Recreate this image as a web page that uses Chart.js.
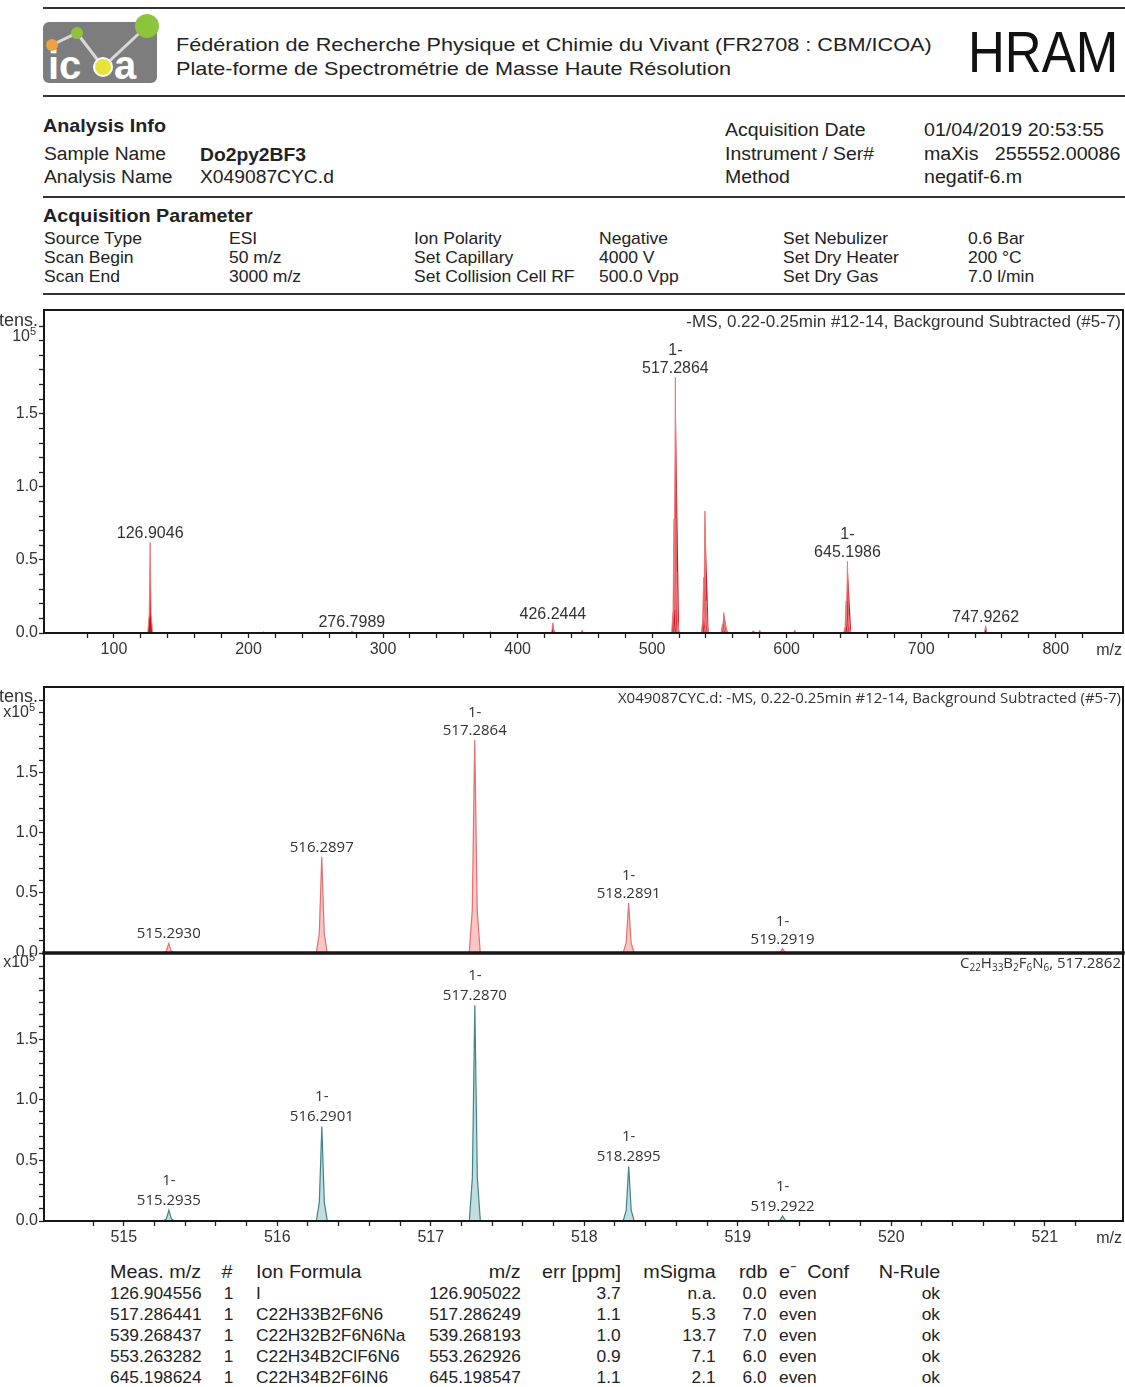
<!DOCTYPE html>
<html><head><meta charset="utf-8">
<script src="https://cdn.jsdelivr.net/npm/chart.js@4.4.1/dist/chart.umd.min.js"></script>
<style>
body{margin:0;background:#fff;width:1125px;height:1387px;position:relative;overflow:hidden;font-family:"Liberation Sans",Arial,sans-serif;color:#222;}
.t{position:absolute;white-space:nowrap;line-height:1;transform-origin:left top;}
.b{font-weight:bold;}
.hr{position:absolute;left:43px;width:1082px;height:2px;background:#333;}
canvas{position:absolute;left:0;}
</style></head><body>

<svg style="position:absolute;left:0;top:0" width="170" height="95">
  <rect x="43" y="22" width="114" height="61" rx="6" fill="#7d7d7d"/>
  <polyline points="52,45 77,33 103,67 147,26" fill="none" stroke="#d8d8d8" stroke-width="3"/>
  <text x="48" y="79" font-family="Liberation Sans" font-weight="bold" font-size="40" fill="#fff">ic</text>
  <text x="114" y="79" font-family="Liberation Sans" font-weight="bold" font-size="40" fill="#fff">a</text>
  <circle cx="103" cy="67" r="10" fill="#fff"/>
  <circle cx="103" cy="67" r="8" fill="#e9e23a"/>
  <circle cx="52" cy="45" r="6" fill="#f0a044"/>
  <circle cx="77" cy="33" r="6" fill="#8cc43c"/>
  <circle cx="147" cy="26" r="12" fill="#8cc43c"/>
</svg>

<div class="hr" style="top:7px"></div>
<div class="hr" style="top:95px"></div>
<div class="hr" style="top:196px"></div>
<div class="hr" style="top:293px"></div>

<div class="t" style="left:176px;top:35px;font-size:19px;transform:scaleX(1.14)">Fédération de Recherche Physique et Chimie du Vivant (FR2708 : CBM/ICOA)</div>
<div class="t" style="left:176px;top:59px;font-size:19px;transform:scaleX(1.14)">Plate-forme de Spectrométrie de Masse Haute Résolution</div>
<div class="t" style="left:968px;top:23px;font-size:58px;transform:scaleX(0.88);color:#111">HRAM</div>

<div id="info"></div>
<div class="t b" style="left:43px;top:206px;font-size:19px;transform:scaleX(1.04)">Acquisition Parameter</div>
<div id="params"></div>
<div id="table"></div>

<canvas id="c1" width="1125" height="365" style="top:300px"></canvas>
<canvas id="c2" width="1125" height="279" style="top:677px"></canvas>
<canvas id="c3" width="1125" height="310" style="top:943px"></canvas>

<script>
// ---------------- DATA ----------------
const infoLabels = ['Sample Name','Analysis Name'];
const infoValues = ['Do2py2BF3','X049087CYC.d'];
const acqLabels  = ['Acquisition Date','Instrument / Ser#','Method'];
const acqValues  = ['01/04/2019 20:53:55','maXis\u00a0\u00a0 255552.00086','negatif-6.m'];

const paramNames1 = ['Source Type','Scan Begin','Scan End'];
const paramVals1  = ['ESI','50 m/z','3000 m/z'];
const paramNames2 = ['Ion Polarity','Set Capillary','Set Collision Cell RF'];
const paramVals2  = ['Negative','4000 V','500.0 Vpp'];
const paramNames3 = ['Set Nebulizer','Set Dry Heater','Set Dry Gas'];
const paramVals3  = ['0.6 Bar','200 °C','7.0 l/min'];

// full-range spectrum (m/z, intensity x1e5)
const topMz  = [126.9046, 211.0, 276.7989, 380.0, 426.2444, 427.25, 448.0,
                516.2897, 517.2864, 518.2891, 519.2919, 538.27, 539.2684, 540.27, 541.27,
                552.26, 553.2633, 554.27, 555.26, 575.0, 580.0, 606.0,
                644.20, 645.1986, 646.20, 647.20, 747.9262];
const topInt = [0.62, 0.008, 0.015, 0.01, 0.07, 0.02, 0.02,
                0.78, 1.75, 0.42, 0.04, 0.38, 0.835, 0.22, 0.03,
                0.06, 0.14, 0.07, 0.03, 0.015, 0.02, 0.02,
                0.22, 0.49, 0.12, 0.02, 0.05];
const topLabelMz     = [126.9046, 276.7989, 426.2444, 517.2864, 645.1986, 747.9262];
const topLabelCharge = ['', '', '', '1-', '1-', ''];
const topTitle = '-MS, 0.22-0.25min #12-14, Background Subtracted (#5-7)';
const topXTickLabels = [100, 200, 300, 400, 500, 600, 700, 800];

// zoomed measured spectrum
const midMz  = [515.2930, 516.2897, 517.2864, 518.2891, 519.2919];
const midInt = [0.08, 0.80, 1.77, 0.415, 0.035];
const midCharge = ['', '', '1-', '1-', '1-'];
const midTitle = 'X049087CYC.d: -MS, 0.22-0.25min #12-14, Background Subtracted (#5-7)';

// simulated isotope pattern
const simMz  = [515.2935, 516.2901, 517.2870, 518.2895, 519.2922];
const simInt = [0.09, 0.78, 1.78, 0.45, 0.04];
const simCharge = ['1-', '1-', '1-', '1-', '1-'];
const simFormula = 'C22H33B2F6N6';
const simMass = '517.2862';
const zoomXTickLabels = [515, 516, 517, 518, 519, 520, 521];

const yTickLabels = [0, 0.5, 1.0, 1.5];

// result table
const tblHead   = ['Meas. m/z', '#', 'Ion Formula', 'm/z', 'err [ppm]', 'mSigma', 'rdb', 'e⁻\u00a0 Conf', 'N-Rule'];
const measMz    = ['126.904556','517.286441','539.268437','553.263282','645.198624'];
const hitNo     = ['1','1','1','1','1'];
const ionFormula= ['I','C22H33B2F6N6','C22H32B2F6N6Na','C22H34B2ClF6N6','C22H34B2F6IN6'];
const calcMz    = ['126.905022','517.286249','539.268193','553.262926','645.198547'];
const errPpm    = ['3.7','1.1','1.0','0.9','1.1'];
const mSigma    = ['n.a.','5.3','13.7','7.1','2.1'];
const rdb       = ['0.0','7.0','7.0','6.0','6.0'];
const eConf     = ['even','even','even','even','even'];
const nRule     = ['ok','ok','ok','ok','ok'];

// ---------------- HTML TEXT ----------------
function txt(parent, s, x, top, size, align, sx, bold){
  const d = document.createElement('div');
  d.className = 't' + (bold ? ' b' : '');
  d.textContent = s;
  d.style.fontSize = size + 'px';
  d.style.top = top + 'px';
  if (align === 'r') { d.style.right = (1125 - x) + 'px'; d.style.transformOrigin = 'right top'; }
  else d.style.left = x + 'px';
  if (sx) d.style.transform = 'scaleX(' + sx + ')';
  parent.appendChild(d);
}
const I = document.getElementById('info');
txt(I, 'Analysis Info', 43, 116, 19, 'l', 1.04, true);
infoLabels.forEach((s,i) => txt(I, s, 44, [145,168][i], 18, 'l', 1.07));
infoValues.forEach((s,i) => txt(I, s, 200, [146,168][i], 18, 'l', 1.07, i === 0));
acqLabels.forEach((s,i) => txt(I, s, 725, [121,145,168][i], 18, 'l', 1.08));
acqValues.forEach((s,i) => txt(I, s, 924, [121,145,168][i], 18, 'l', 1.09));

const P = document.getElementById('params');
const pCols = [[paramNames1,44],[paramVals1,229],[paramNames2,414],[paramVals2,599],[paramNames3,783],[paramVals3,968]];
const pTops = [230, 249, 268];
pCols.forEach(([arr,x]) => arr.forEach((s,i) => txt(P, s, x, pTops[i], 17, 'l', 1.03)));

const T = document.getElementById('table');
const tCols = [[measMz,110,'l'],[hitNo,233,'r'],[ionFormula,256,'l'],[calcMz,521,'r'],[errPpm,621,'r'],
               [mSigma,716,'r'],[rdb,767,'r'],[eConf,779,'l'],[nRule,940,'r']];
const tTops = [1285, 1306, 1327, 1348, 1369];
tCols.forEach(([arr,x,a],c) => {
  txt(T, tblHead[c], x, 1262, 19, a, 1.04);
  arr.forEach((s,i) => txt(T, s, x, tTops[i], 17, a, 1.02));
});

// ---------------- CHARTS ----------------
Chart.defaults.font.family = '"Liberation Sans", Arial, sans-serif';
Chart.defaults.color = '#333';

function peakShape(mz, inten, hw, knee){
  const pts = [];
  mz.forEach((m,i) => {
    const h = inten[i];
    pts.push({x:m-hw,y:0},{x:m-hw*knee,y:h*0.2},{x:m,y:h},{x:m+hw*knee,y:h*0.2},{x:m+hw,y:0},{x:m+hw,y:null});
  });
  return pts;
}
function nearestInt(mz, inten, m){
  let best = 0;
  mz.forEach((v,i) => { if (Math.abs(v-m) < Math.abs(mz[best]-m)) best = i; });
  return inten[best];
}
function onStep(v, step){ const r = v/step; return Math.abs(r - Math.round(r)) < 1e-6; }
function isIn(list, v){ return list.some(t => Math.abs(t - v) < 1e-6); }

const deco = {
  id: 'deco',
  afterDatasetsDraw(chart, args, o){
    const {ctx, chartArea:a, scales:{x, y}} = chart;
    ctx.save();
    ctx.strokeStyle = '#161616';
    (o.edges || []).forEach(([side, w]) => {
      ctx.lineWidth = w;
      ctx.beginPath();
      if (side === 'top')    { ctx.moveTo(a.left - w/2, a.top); ctx.lineTo(a.right + w/2, a.top); }
      if (side === 'bottom') { ctx.moveTo(a.left - w/2, a.bottom); ctx.lineTo(a.right + w/2, a.bottom); }
      if (side === 'left')   { ctx.moveTo(a.left, a.top); ctx.lineTo(a.left, a.bottom); }
      if (side === 'right')  { ctx.moveTo(a.right, a.top); ctx.lineTo(a.right, a.bottom); }
      ctx.stroke();
    });
    // peak labels
    ctx.fillStyle = '#333';
    ctx.textAlign = 'center';
    ctx.textBaseline = 'alphabetic';
    ctx.font = o.labelFont;
    (o.labels || []).forEach(l => {
      const px = x.getPixelForValue(l.mz);
      let by = y.getPixelForValue(l.inten) - o.labelGap;
      for (let k = l.lines.length - 1; k >= 0; k--) {
        ctx.fillText(l.lines[k], px, by);
        by -= o.labelLine;
      }
    });
    // title (right aligned, inside the frame)
    if (o.title) {
      ctx.textAlign = 'left';
      const parts = o.title.parts;
      let total = 0;
      parts.forEach(p => { ctx.font = p[1] ? o.title.subFont : o.title.font; total += ctx.measureText(p[0]).width; });
      let cx = a.right - 2 - total;
      const by = a.top + o.title.dy;
      parts.forEach(p => {
        ctx.font = p[1] ? o.title.subFont : o.title.font;
        ctx.fillText(p[0], cx, by + (p[1] ? 3 : 0));
        cx += ctx.measureText(p[0]).width;
      });
    }
    // intensity unit
    if (o.unit) {
      const u = o.unit;
      ctx.textAlign = 'right';
      ctx.font = '18px "Liberation Sans", Arial, sans-serif';
      if (u.intens) ctx.fillText('Intens.', 38, a.top + u.dy - 15);
      ctx.font = '16px "Liberation Sans", Arial, sans-serif';
      ctx.fillText(u.mult, u.xr, a.top + u.dy);
      ctx.textAlign = 'left';
      ctx.font = '11px "Liberation Sans", Arial, sans-serif';
      ctx.fillText('5', u.xr, a.top + u.dy - 6);
    }
    // m/z axis label
    if (o.mz) {
      ctx.textAlign = 'right';
      ctx.font = '16px "Liberation Sans", Arial, sans-serif';
      ctx.fillText('m/z', a.right - 1, a.bottom + 22);
    }
    ctx.restore();
  }
};

function formulaParts(f, tail){
  const parts = [];
  f.match(/[A-Z][a-z]?|\d+/g).forEach(tok => parts.push([tok, /\d/.test(tok)]));
  parts.push([tail, false]);
  return parts;
}

function makeChart(id, cfg){
  const yAxis = {
    type: 'linear', min: 0, max: 2.21,
    ticks: { stepSize: 0.1, autoSkip: false, padding: 1, color: '#333',
             font: { size: 16 },
             callback: v => isIn(yTickLabels, v) ? v.toFixed(1) : '' },
    afterBuildTicks: s => { s.ticks = s.ticks.filter(t => onStep(t.value, 0.1)); },
    grid: { drawOnChartArea: false, drawTicks: true, tickLength: 5, tickColor: '#222', tickWidth: 1.3 },
    border: { display: false },
    afterFit: s => { s.width = 44; s.paddingTop = 0; s.paddingBottom = 0; }
  };
  const xAxis = cfg.xShow ? {
    type: 'linear', min: cfg.xmin, max: cfg.xmax,
    ticks: { stepSize: cfg.step, autoSkip: false, maxRotation: 0, padding: 2, color: '#333',
             font: { size: 16 },
             callback: v => isIn(cfg.xLabels, v) ? String(Math.round(v)) : '' },
    afterBuildTicks: s => { s.ticks = s.ticks.filter(t => onStep(t.value, cfg.step)); },
    grid: { drawOnChartArea: false, drawTicks: true, tickLength: 5, tickColor: '#222', tickWidth: 1.3 },
    border: { display: false },
    afterFit: s => { s.height = 32; s.paddingLeft = 0; s.paddingRight = 0; }
  } : { type: 'linear', min: cfg.xmin, max: cfg.xmax, display: false };

  return new Chart(document.getElementById(id), {
    type: 'line',
    data: { datasets: [{
      data: peakShape(cfg.mz, cfg.inten, cfg.hw, cfg.knee),
      borderColor: cfg.stroke, borderWidth: cfg.lw, backgroundColor: cfg.fill,
      fill: 'origin', pointRadius: 0, tension: 0, spanGaps: false
    }]},
    options: {
      responsive: false, animation: false,
      layout: { padding: { top: 10, right: 2, left: 0, bottom: cfg.xShow ? 0 : 3 } },
      plugins: { legend: { display: false }, tooltip: { enabled: false }, deco: cfg.deco },
      scales: { x: xAxis, y: yAxis }
    },
    plugins: [deco]
  });
}

const openLbl = '15px "Open Sans", sans-serif';

makeChart('c1', {
  mz: topMz, inten: topInt, hw: 1.8, knee: 0.4,
  stroke: '#ec7a7a', lw: 1, fill: '#c8101e',
  xShow: true, xmin: 48, xmax: 850, step: 20, xLabels: topXTickLabels,
  deco: {
    edges: [['top',2],['right',2],['bottom',2],['left',2]],
    labelFont: '16px "Liberation Sans", Arial, sans-serif', labelGap: 4, labelLine: 18,
    labels: topLabelMz.map((m,i) => ({ mz: m, inten: nearestInt(topMz, topInt, m),
             lines: topLabelCharge[i] ? [topLabelCharge[i], m.toFixed(4)] : [m.toFixed(4)] })),
    title: { parts: [[topTitle, false]], font: '17px "Liberation Sans", Arial, sans-serif', subFont: '10px sans-serif', dy: 17 },
    unit: { intens: true, mult: '10', xr: 30, dy: 31 },
    mz: true
  }
});

makeChart('c2', {
  mz: midMz, inten: midInt, hw: 0.036, knee: 0.45,
  stroke: '#e36f6f', lw: 1.2, fill: '#f8c6c6',
  xShow: false, xmin: 514.48, xmax: 521.51,
  deco: {
    edges: [['top',2],['right',2],['left',2],['bottom',3.5]],
    labelFont: openLbl, labelGap: 5, labelLine: 18,
    labels: midMz.map((m,i) => ({ mz: m, inten: midInt[i],
             lines: midCharge[i] ? [midCharge[i], m.toFixed(4)] : [m.toFixed(4)] })),
    title: { parts: [[midTitle, false]], font: '15px "Open Sans", sans-serif', subFont: '10px "Open Sans", sans-serif', dy: 16 },
    unit: { intens: true, mult: 'x10', xr: 29, dy: 30 },
    mz: false
  }
});

makeChart('c3', {
  mz: simMz, inten: simInt, hw: 0.036, knee: 0.45,
  stroke: '#3f8585', lw: 1.2, fill: '#c2dddd',
  xShow: true, xmin: 514.48, xmax: 521.51, step: 0.2, xLabels: zoomXTickLabels,
  deco: {
    edges: [['right',2],['left',2],['bottom',2]],
    labelFont: openLbl, labelGap: 5, labelLine: 20,
    labels: simMz.map((m,i) => ({ mz: m, inten: simInt[i],
             lines: simCharge[i] ? [simCharge[i], m.toFixed(4)] : [m.toFixed(4)] })),
    title: { parts: formulaParts(simFormula, ', ' + simMass), font: '15px "Open Sans", sans-serif', subFont: '10px "Open Sans", sans-serif', dy: 15 },
    unit: { intens: false, mult: 'x10', xr: 29, dy: 14 },
    mz: true
  }
});
</script>
</body></html>
